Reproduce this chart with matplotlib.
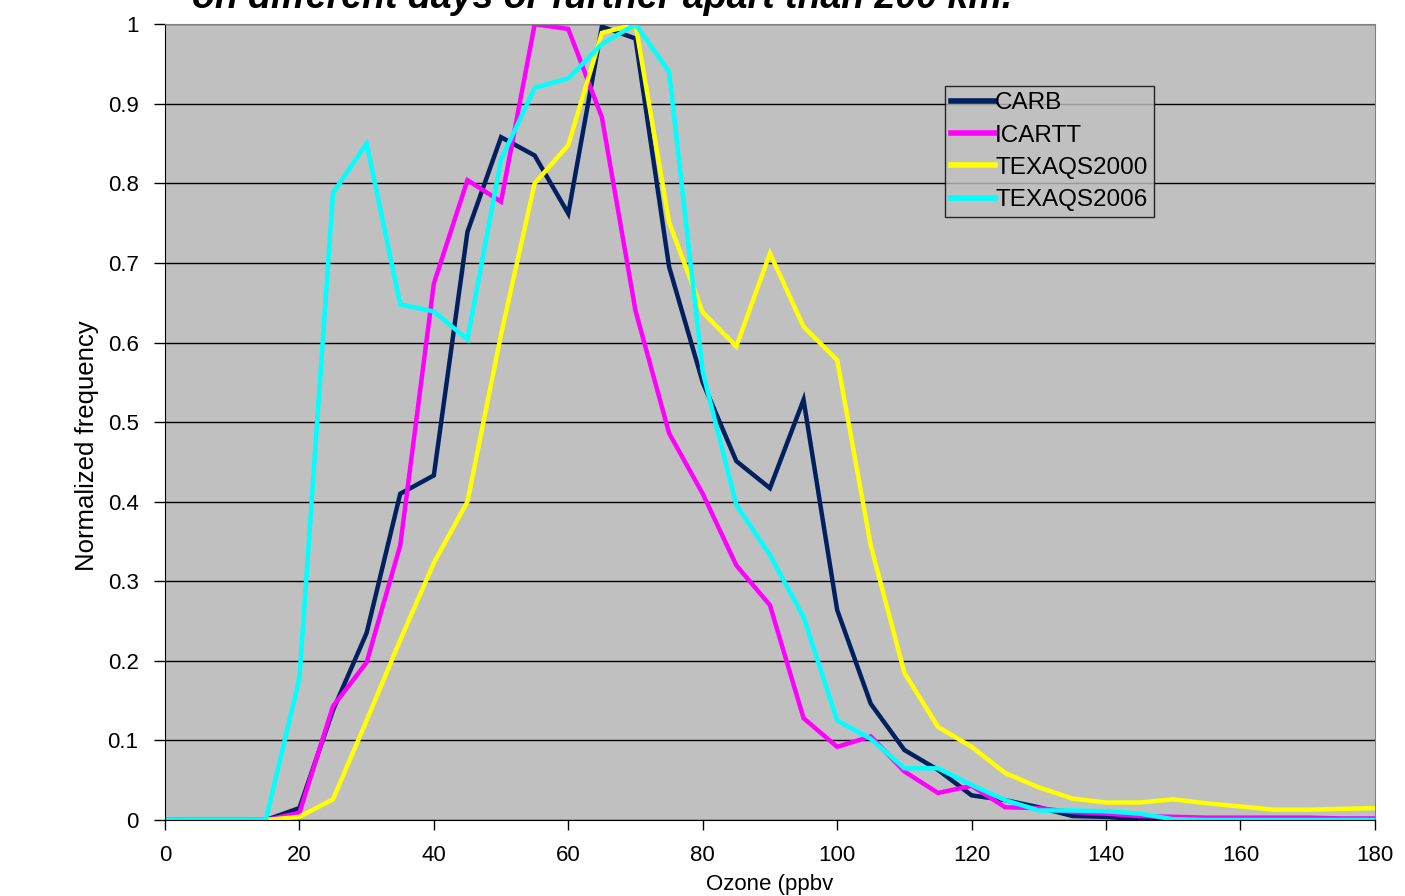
import matplotlib.pyplot as plt
import numpy as np

plt.rcParams['font.family'] = ['Liberation Sans', 'DejaVu Sans']

# ozone bins (ppbv)
ozone = list(range(0, 185, 5))

carb = [0, 0, 0, 0, 0.015, 0.138, 0.235, 0.41, 0.433, 0.739, 0.858, 0.835, 0.762,
        0.997, 0.982, 0.695, 0.55, 0.451, 0.417, 0.528, 0.264, 0.146, 0.088, 0.063,
        0.031, 0.025, 0.016, 0.005, 0.004, 0.001, 0, 0, 0, 0, 0, 0, 0]
icartt = [0, 0, 0, 0, 0.009, 0.143, 0.198, 0.345, 0.674, 0.804, 0.777, 1.0, 0.994,
          0.883, 0.64, 0.486, 0.41, 0.32, 0.27, 0.128, 0.092, 0.105, 0.061, 0.034,
          0.043, 0.016, 0.015, 0.01, 0.008, 0.005, 0.004, 0.003, 0.003, 0.003,
          0.003, 0.002, 0.002]
texaqs2000 = [0, 0, 0, 0, 0.004, 0.026, 0.125, 0.226, 0.323, 0.4, 0.61, 0.8, 0.848,
              0.989, 1.0, 0.751, 0.638, 0.595, 0.712, 0.62, 0.578, 0.345, 0.185,
              0.117, 0.092, 0.059, 0.041, 0.027, 0.022, 0.022, 0.026, 0.021, 0.017,
              0.013, 0.013, 0.014, 0.015]
texaqs2006 = [0, 0, 0, 0, 0.178, 0.788, 0.85, 0.648, 0.639, 0.604, 0.83, 0.92, 0.932,
              0.975, 1.0, 0.94, 0.563, 0.396, 0.333, 0.255, 0.125, 0.102, 0.065,
              0.065, 0.044, 0.025, 0.012, 0.012, 0.011, 0.008, 0.001, 0, 0, 0, 0, 0, 0]

series = [('CARB', carb, '#002060'),
          ('ICARTT', icartt, '#FF00FF'),
          ('TEXAQS2000', texaqs2000, '#FFFF00'),
          ('TEXAQS2006', texaqs2006, '#00FFFF')]

fig = plt.figure(figsize=(14.05, 8.96), dpi=100)
ax = fig.add_axes([0.1174, 0.0848, 0.8612, 0.8882])
ax.set_facecolor('#C0C0C0')

for name, vals, col in series:
    ax.plot(ozone, vals, color=col, lw=3.2, label=name, solid_joinstyle='miter')

ax.set_xlim(0, 180)
ax.set_ylim(0, 1)
ax.set_xticks(np.arange(0, 181, 20))
ax.set_yticks(np.arange(0, 1.01, 0.1))
ax.set_yticklabels(['0', '0.1', '0.2', '0.3', '0.4', '0.5', '0.6', '0.7', '0.8', '0.9', '1'])
ax.yaxis.grid(True, color='black', lw=1)
ax.set_axisbelow(True)
ax.tick_params(axis='x', direction='out', length=7, width=1, labelsize=16, pad=11)
ax.tick_params(axis='y', direction='out', length=8, width=1, labelsize=16, pad=11)

ax.spines['left'].set_color('black')
ax.spines['bottom'].set_color('black')
ax.spines['top'].set_color('#808080')
ax.spines['right'].set_color('#808080')

ax.set_ylabel('Normalized frequency', fontsize=18.5)
ax.yaxis.set_label_coords(-0.0545, 0.47)
ax.set_xlabel('Ozone (ppbv', fontsize=16, labelpad=6)

leg = ax.legend(loc='upper left', bbox_to_anchor=(0.6446, 0.922), fontsize=17.5,
                frameon=True, fancybox=False, handlelength=1.8, handletextpad=0.02,
                labelspacing=0.42, borderpad=0.25, borderaxespad=0)
leg.get_frame().set_edgecolor('black')
leg.get_frame().set_facecolor('#C0C0C0')
leg.get_frame().set_linewidth(1)
for h in leg.get_lines():
    h.set_linewidth(4)

fig.text(0.137, 0.991, 'on different days or further apart than 200 km.',
         fontsize=27, fontweight='bold', fontstyle='italic', va='baseline')

fig.savefig('out.png', dpi=100)
